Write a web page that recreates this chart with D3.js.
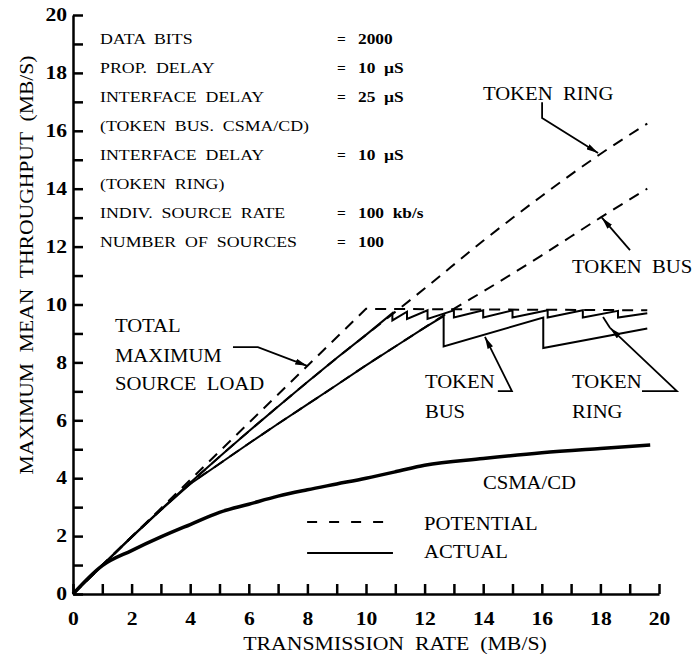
<html>
<head>
<style>
body { margin: 0; background: #fff; }
.axis path, .axis line { stroke: #000; stroke-width: 2.5px; }
.curve { fill: none; stroke: #000; stroke-width: 2px; }
.dashed { stroke-dasharray: 11,8; }
.thick { stroke-width: 3.5px; }
.arrow { fill: none; stroke: #000; stroke-width: 1.8px; }
</style>
</head>
<body>
<svg width="698" height="669"></svg>
<script src="https://d3js.org/d3.v7.min.js"></script>
<script>
var majorTicks = [0, 2, 4, 6, 8, 10, 12, 14, 16, 18, 20]
var minorTicks = [1, 3, 5, 7, 9, 11, 13, 15, 17, 19]

// each series is a list of [transmission rate, throughput]
var totalLoad = [[0, 0], [10, 9.85], [19.6, 9.8]]
var ringPotential = [[0, 0], [1, 1], [2, 1.98], [3, 2.92], [4, 3.84], [5, 4.74], [6, 5.62], [7, 6.48], [8, 7.32], [9, 8.15], [10, 8.95], [12, 10.55], [14, 12.2], [16, 13.75], [18, 15.2], [19.6, 16.25]]
var busPotential = [[0, 0], [1, 0.98], [2, 1.96], [3, 2.9], [4, 3.8], [5, 4.5], [6, 5.2], [7, 5.88], [8, 6.55], [9, 7.22], [10, 7.9], [11, 8.55], [12, 9.2], [13, 9.85], [14, 10.45], [16, 11.7], [18, 13.0], [19.6, 14.0]]
var ringActual = [[0, 0], [1, 1], [2, 1.98], [3, 2.92], [4, 3.84], [5, 4.74], [6, 5.62], [7, 6.48], [8, 7.32], [9, 8.15], [10, 8.95], [10.9, 9.7],
    [10.9, 9.45], [11.4, 9.75], [11.4, 9.5], [12.1, 9.8], [12.1, 9.5], [13.0, 9.8], [13.0, 9.55], [14.0, 9.8], [14.0, 9.55], [15.0, 9.8], [15.0, 9.55],
    [16.2, 9.8], [16.2, 9.55], [17.4, 9.8], [17.4, 9.55], [18.6, 9.78], [18.6, 9.55], [19.6, 9.7]]
var busActual = [[0, 0], [1, 0.98], [2, 1.96], [3, 2.9], [4, 3.8], [5, 4.5], [6, 5.2], [7, 5.88], [8, 6.55], [9, 7.22], [10, 7.9], [11, 8.55], [12, 9.2], [12.65, 9.6],
    [12.65, 8.55], [16.05, 9.55], [16.05, 8.5], [19.6, 9.17]]
var csma = [[0, 0], [1, 0.98], [2, 1.5], [3, 1.97], [4, 2.4], [5, 2.82], [6, 3.1], [7, 3.38], [8, 3.6], [9, 3.8], [10, 4.0], [11, 4.22], [12, 4.45], [14, 4.68], [16, 4.88], [18, 5.03], [19.7, 5.15]]

var paramNames = ["DATA  BITS", "PROP.  DELAY", "INTERFACE  DELAY", "(TOKEN  BUS.  CSMA/CD)", "INTERFACE  DELAY", "(TOKEN  RING)", "INDIV.  SOURCE  RATE", "NUMBER  OF  SOURCES"]
var paramValues = ["2000", "10  \u00b5S", "25  \u00b5S", "", "10  \u00b5S", "", "100  kb/s", "100"]

const svg = d3.select('svg')
const x = d3.scaleLinear().domain([0, 20]).range([73, 659])
const y = d3.scaleLinear().domain([0, 20]).range([594, 15])

const fmt = function (d) { return majorTicks.indexOf(d) >= 0 ? d : '' }
const allTicks = majorTicks.concat(minorTicks)

svg.append('g').attr('class', 'axis')
    .attr('transform', 'translate(0,594)')
    .call(d3.axisBottom(x).tickValues(allTicks).tickSizeInner(-10).tickSizeOuter(0).tickPadding(18).tickFormat(fmt))
svg.append('g').attr('class', 'axis')
    .attr('transform', 'translate(73,0)')
    .call(d3.axisLeft(y).tickValues(allTicks).tickSizeInner(-10).tickSizeOuter(0).tickPadding(5).tickFormat(fmt))
svg.selectAll('.axis').attr('font-family', null).attr('font-size', null)
svg.selectAll('.axis text').attr('font-size', 18).attr('font-weight', 'bold').attr('transform', 'scale(1.2,1)')

const line = d3.line().x(function (d) { return x(d[0]) }).y(function (d) { return y(d[1]) })
const smooth = d3.line().curve(d3.curveMonotoneX).x(function (d) { return x(d[0]) }).y(function (d) { return y(d[1]) })

svg.append('path').datum(totalLoad).attr('class', 'curve dashed').attr('d', line)
svg.append('path').datum(ringPotential).attr('class', 'curve dashed').attr('d', smooth)
svg.append('path').datum(busPotential).attr('class', 'curve dashed').attr('d', smooth)
svg.append('path').datum(ringActual).attr('class', 'curve').attr('d', line)
svg.append('path').datum(busActual).attr('class', 'curve').attr('d', line)
svg.append('path').datum(csma).attr('class', 'curve thick').attr('d', smooth)

// parameters block, text widened with a horizontal scale instead of letter spacing
const rows = svg.append('g').selectAll('g').data(paramNames).enter().append('g')
    .attr('transform', function (d, i) { return 'translate(0,' + (43.5 + i * 29) + ')' })
rows.append('text').attr('transform', 'translate(100,0) scale(1.15,1)').attr('font-size', 15.5)
    .text(function (d) { return d })
rows.filter(function (d, i) { return paramValues[i] !== '' })
    .append('text').attr('x', 337).attr('font-size', 15.5).attr('font-weight', 'bold').text('=')
rows.append('text').attr('transform', 'translate(358,0) scale(1.12,1)').attr('font-size', 15.5).attr('font-weight', 'bold')
    .text(function (d, i) { return paramValues[i] })

svg.append('defs').append('marker')
    .attr('id', 'head').attr('viewBox', '0 0 12 6').attr('refX', 12).attr('refY', 3)
    .attr('markerWidth', 12).attr('markerHeight', 6).attr('markerUnits', 'userSpaceOnUse').attr('orient', 'auto')
    .append('path').attr('d', 'M0,0 L12,3 L0,6 Z').attr('fill', '#000')

var labels = [
    { t: "TOKEN  RING", x: 13.99, y: 17.06 },
    { t: "TOKEN  BUS", x: 17.03, y: 11.09 },
    { t: "TOTAL", x: 1.43, y: 9.05 },
    { t: "MAXIMUM", x: 1.43, y: 8.01 },
    { t: "SOURCE  LOAD", x: 1.43, y: 7.05 },
    { t: "TOKEN", x: 12.01, y: 7.12 },
    { t: "BUS", x: 12.01, y: 6.08 },
    { t: "TOKEN", x: 17.03, y: 7.12 },
    { t: "RING", x: 17.03, y: 6.08 },
    { t: "CSMA/CD", x: 13.99, y: 3.63 },
    { t: "POTENTIAL", x: 11.98, y: 2.21 },
    { t: "ACTUAL", x: 11.98, y: 1.24 }
]
svg.append('g').selectAll('text').data(labels).enter().append('text')
    .attr('font-size', 18)
    .attr('transform', function (d) { return 'translate(' + x(d.x) + ',' + y(d.y) + ') scale(1.15,1)' })
    .text(function (d) { return d.t })

var arrows = [
    [[16.01, 16.99], [16.01, 16.44], [17.92, 15.23]],
    [[19.01, 11.88], [18.05, 13.0]],
    [[5.46, 8.53], [6.31, 8.53], [7.99, 7.88]],
    [[14.5, 7.01], [14.98, 7.01], [14.06, 8.88]],
    [[19.42, 7.01], [20.61, 7.01], [18.33, 9.19]]
]
svg.append('g').selectAll('path').data(arrows).enter().append('path')
    .attr('class', 'arrow').attr('d', line).attr('marker-end', 'url(#head)')
svg.append('path').datum([[18.33, 9.19], [18.09, 9.57]]).attr('class', 'arrow').attr('d', line)

// legend samples
svg.append('path').datum([[7.99, 2.49], [10.92, 2.49]]).attr('class', 'curve').style('stroke-dasharray', '10,12').attr('d', line)
svg.append('path').datum([[7.99, 1.42], [10.92, 1.42]]).attr('class', 'curve').attr('d', line)

svg.append('text').attr('font-size', 18).attr('text-anchor', 'middle')
    .attr('transform', 'translate(395,650) scale(1.21,1)')
    .text('TRANSMISSION  RATE  (MB/S)')
svg.append('text').attr('font-size', 18).attr('text-anchor', 'middle')
    .attr('transform', 'translate(33,265) rotate(-90) scale(1.2,1)')
    .text('MAXIMUM  MEAN  THROUGHPUT  (MB/S)')

svg.selectAll('text').attr('font-family', 'Liberation Serif').attr('fill', '#000').style('white-space', 'pre')
</script>
</body>
</html>
